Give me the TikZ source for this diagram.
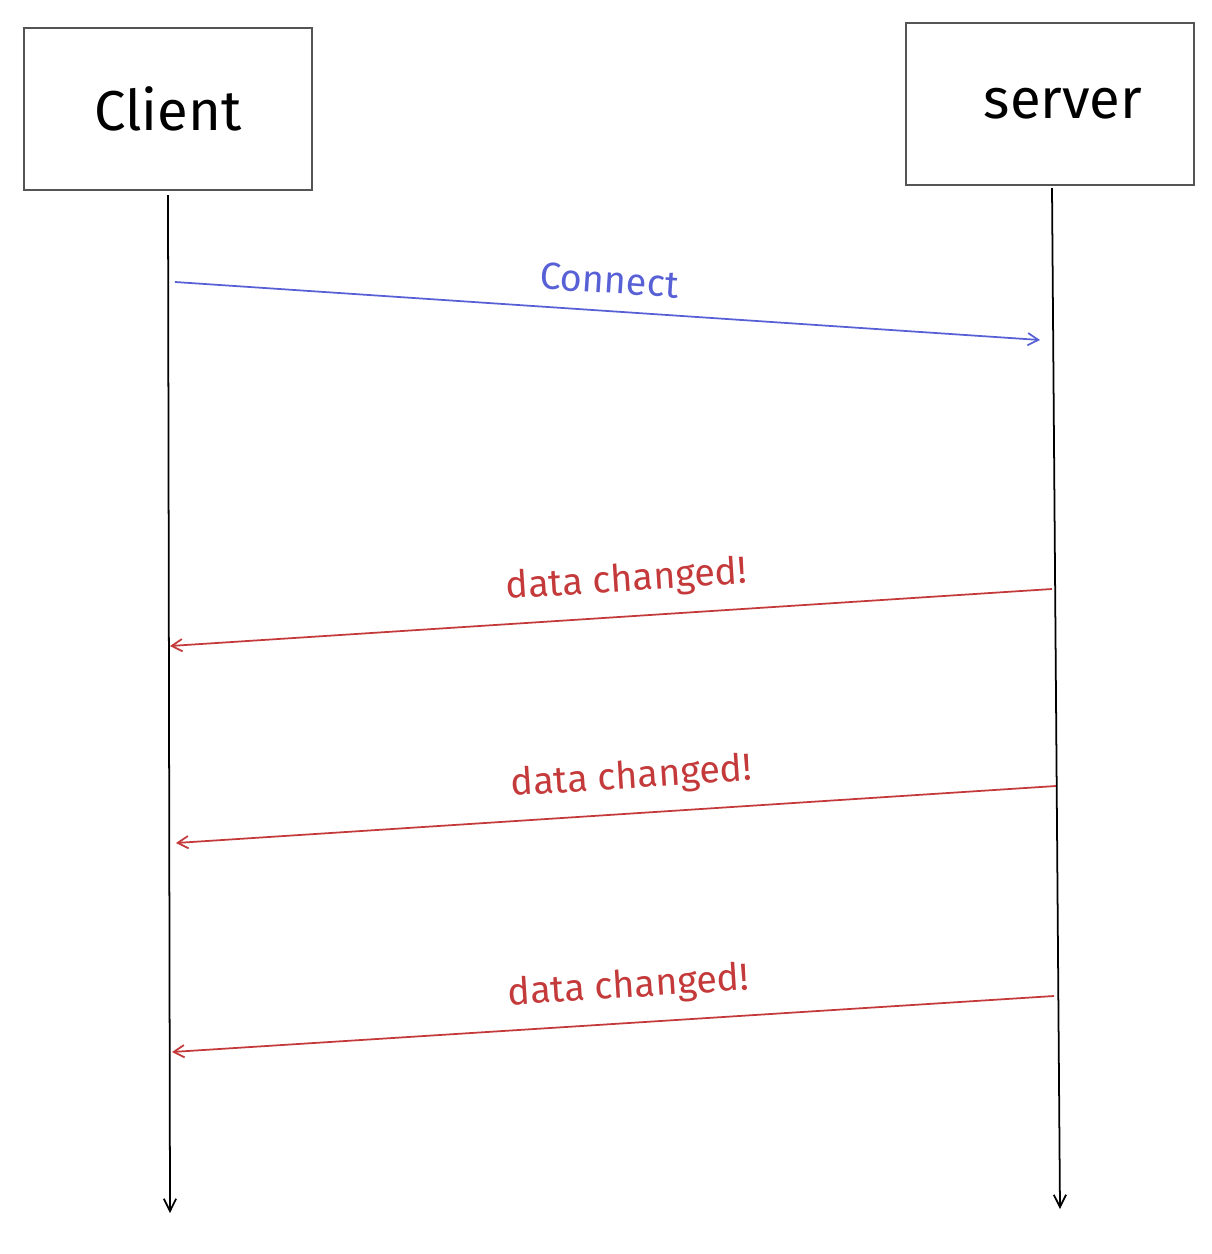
\documentclass[tikz,border=0pt]{standalone}
\usepackage{fontspec}
\setmainfont{Fira Sans}
\usepackage{tikz}
\usetikzlibrary{positioning}
\usetikzlibrary{arrows.meta}
\definecolor{msgblue}{RGB}{88,96,214}
\definecolor{msgred}{RGB}{196,58,58}
\definecolor{boxgray}{RGB}{85,85,85}
\tikzset{% styles of the sequence chart
        party/.style={draw=boxgray, line width=0.9pt, minimum width=5.76cm, minimum height=3.24cm, font=\fontsize{32}{38}\selectfont},
        lifeline/.style={-{Straight Barb[length=7pt,width=7pt]}, line width=1pt, black},
        msg/.style={-{Straight Barb[length=6pt,width=7pt]}, line width=1pt},
        msglabel/.style={font=\fontsize{21.5}{26}\selectfont, sloped, above=6pt}
        }

\begin{document}
\begin{tikzpicture}[x=0.02cm, y=-0.02cm]
\useasboundingbox (0,0) rectangle (1212,1254);
\node [party] (client) at (168,109) {Client};
\node [party] (server) at (1050,104) {\hspace*{0.52cm}server};
\coordinate (clientend) at (170,1213);
\coordinate (serverend) at (1060,1209);
\draw [lifeline] (168,195) -- (clientend);
\draw [lifeline] (1052,188) -- (serverend);
% messages
\coordinate (c1) at (175,282);
\coordinate (s1) at (1040,340);
\coordinate (s2) at (1052,589);
\coordinate (c2) at (170,646);
\coordinate (s3) at (1056,786);
\coordinate (c3) at (176,843);
\coordinate (s4) at (1054,996);
\coordinate (c4) at (172,1052);
\draw [msg, msgblue] (c1) -- node [msglabel, text=msgblue, pos=0.5] {Connect} (s1);
\draw [msg, msgred] (s2) -- node [msglabel, text=msgred, pos=0.48] {data changed!} (c2);
\draw [msg, msgred] (s3) -- node [msglabel, text=msgred, pos=0.48] {data changed!} (c3);
\draw [msg, msgred] (s4) -- node [msglabel, text=msgred, pos=0.48] {data changed!} (c4);
\end{tikzpicture}
\end{document}
